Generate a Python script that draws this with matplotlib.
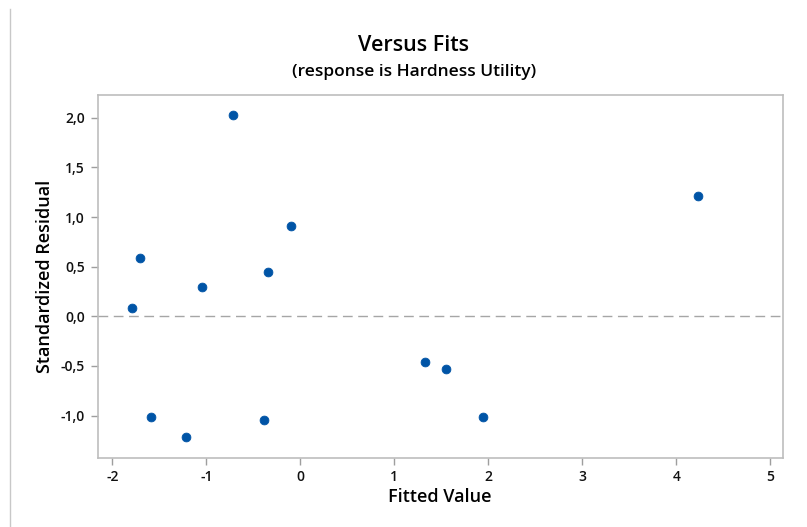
import matplotlib
matplotlib.use("Agg")
import matplotlib.pyplot as plt
from matplotlib.lines import Line2D
from matplotlib.ticker import FuncFormatter

# Residuals vs fitted values
fitted = [-1.79, -1.71, -1.59, -1.22, -1.05, -0.72, -0.39, -0.34, -0.10,
          1.33, 1.55, 1.94, 4.23]
std_resid = [0.08, 0.59, -1.01, -1.22, 0.30, 2.03, -1.04, 0.45, 0.91,
             -0.46, -0.53, -1.01, 1.21]

x_ticks = [-2, -1, 0, 1, 2, 3, 4, 5]
y_ticks = [-1.0, -0.5, 0.0, 0.5, 1.0, 1.5, 2.0]

plt.rcParams["font.family"] = ["Open Sans", "DejaVu Sans"]

W, H = 807, 527
fig = plt.figure(figsize=(W / 100, H / 100), dpi=100)

# axes box in pixel coords
left, right, top, bottom = 97.5, 783, 95, 457.7
ax = fig.add_axes([left / W, 1 - bottom / H, (right - left) / W, (bottom - top) / H])

frame_col = "#bdbdbd"
for s in ax.spines.values():
    s.set_color(frame_col)
    s.set_linewidth(1.2)

ax.axhline(0, color="#a6a6a6", linewidth=1.0, linestyle=(0, (7, 4)), zorder=1)
ax.scatter(fitted, std_resid, s=40, color="#0054a6", edgecolors="#0054a6",
           linewidths=0.6, zorder=3)

ax.set_xlim(-2.157, 5.135)
ax.set_ylim(-1.424, 2.229)
ax.set_xticks(x_ticks)
ax.set_yticks(y_ticks)
ax.yaxis.set_major_formatter(FuncFormatter(lambda v, p: f"{v:.1f}".replace(".", ",")))
ax.xaxis.set_major_formatter(FuncFormatter(lambda v, p: f"{v:.0f}"))
ax.tick_params(axis="both", direction="out", length=5, width=1, color="#9e9e9e",
               labelsize=10, labelcolor="#111111", pad=4)
for lab in ax.get_xticklabels() + ax.get_yticklabels():
    lab.set_fontweight("semibold")

ax.set_xlabel("Fitted Value", fontsize=13, fontweight="semibold", labelpad=3)
ax.set_ylabel("Standardized Residual", fontsize=13, fontweight="semibold", labelpad=5)

fig.text(414 / W, 1 - 45 / H, "Versus Fits", ha="center", va="center",
         fontsize=15.5, fontweight="semibold")
fig.text(414 / W, 1 - 72 / H, "(response is Hardness Utility)", ha="center", va="center",
         fontsize=12.5, fontweight="semibold")

# thin border line at left edge of the graph window
fig.add_artist(Line2D([9.5 / W, 9.5 / W], [0, 1 - 9 / H], transform=fig.transFigure,
                      color="#c8c8c8", linewidth=1.0))

fig.savefig("out.png", dpi=100)
